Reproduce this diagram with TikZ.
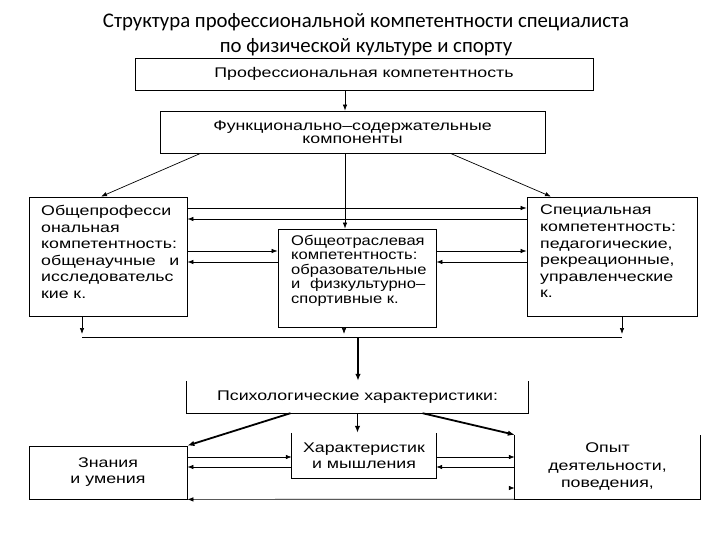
\documentclass[tikz,border=0pt]{standalone}
\usepackage{fontspec}
\setmainfont{Liberation Sans}[FakeStretch=1.27]
\newfontfamily\narrowfont{Liberation Sans}[FakeStretch=1.18]
\newfontfamily\titlefont{Carlito}
\usetikzlibrary{arrows.meta}

\begin{document}
\begin{tikzpicture}[
    x=1pt, y=-1pt,
    every node/.style={inner sep=0pt, font=\fontsize{14}{16}\selectfont},
    box/.style={draw, line width=0.8pt},
    link/.style={draw, line width=0.7pt, -{Latex[length=6pt,width=4.5pt]}},
    heavy/.style={draw, line width=1.8pt, -{Latex[length=7pt,width=5.5pt]}}
]
\useasboundingbox (0,0) rectangle (720,540);
\node[font=\titlefont\fontsize{20.8}{25}\selectfont, align=center] (title) at (366,35)
    {Структура профессиональной компетентности специалиста\\по физической культуре и спорту};

\node[box, minimum width=458, minimum height=32] (prof) at (364,74) {Профессиональная компетентность};
\node[box, minimum width=385, minimum height=42, align=center, font=\fontsize{14}{13}\selectfont] (func) at (352.5,132)
    {Функционально–содержательные\\компоненты};

% competence boxes
\node[box, minimum width=158, minimum height=119] (gen) at (108,256.5) {};
\node[box, minimum width=158, minimum height=98] (branch) at (357,278) {};
\node[box, minimum width=170, minimum height=119] (spec) at (612,256.5) {};
\node[anchor=north west, text width=138, align=left, font=\fontsize{14}{16.6}\selectfont] (gentxt) at (41,205)
    {Общепрофесси\\ональная\\компетентность:\\общенаучные\hfill и\\исследовательс\\кие к.};
\node[anchor=north west, text width=134, align=left, font=\narrowfont\fontsize{14}{14.5}\selectfont] (branchtxt) at (291,235)
    {Общеотраслевая\\компетентность:\\образовательные\\и\hfill физкультурно–\\спортивные к.};
\node[anchor=north west, text width=140, align=left, font=\fontsize{14}{16.6}\selectfont] (spectxt) at (540,205)
    {Специальная\\компетентность:\\педагогические,\\рекреационные,\\управленческие\\к.};

\node[minimum width=341, minimum height=32] (psych) at (357.5,397) {Психологические характеристики:};
\draw[line width=0.8pt] (psych.north west) -- (psych.south west) -- (psych.south east) -- (psych.north east);

\node[box, minimum width=158, minimum height=53, align=center] (know) at (108,472.5) {Знания\\и умения};
\node[minimum width=144, minimum height=45, align=center, font=\fontsize{14}{16.5}\selectfont] (think) at (364,455.5) {Характеристик\\и мышления};
\draw[line width=0.8pt] (think.north west) -- (think.south west) -- (think.south east) -- (think.north east);
\node[minimum width=185, minimum height=64, align=center, font=\fontsize{14}{17.5}\selectfont] (exper) at (607.5,467) {Опыт\\деятельности,\\поведения,};
\draw[line width=0.8pt] (exper.north west) -- (exper.south west) -- (exper.south east) -- (exper.north east);

% rows of the cross links
\coordinate (spine) at (345,0);
\coordinate (r1) at (0,208);
\coordinate (r2) at (0,219);
\coordinate (r3) at (0,251);
\coordinate (r4) at (0,262);
\coordinate (q1) at (0,457);
\coordinate (q2) at (0,467);
\coordinate (stub) at (509,488);
\coordinate (dl) at (82,337);
\coordinate (dm) at (344,337);
\coordinate (dr) at (622,337);
\coordinate (join) at (358,337);

\draw[link] (prof.south -| spine) -- (func.north -| spine);
\draw[link] ([xshift=-152pt]func.south) -- ([xshift=-7pt]gen.north);
\draw[link] ([xshift=98pt]func.south) -- ([xshift=-61pt]spec.north);
\draw[link] (func.south -| spine) -- (branch.north -| spine);

\draw[link] (gen.east |- r1) -- (spec.west |- r1);
\draw[link] (spec.west |- r2) -- (gen.east |- r2);
\draw[link] (gen.east |- r3) -- (branch.west |- r3);
\draw[link] (branch.west |- r4) -- (gen.east |- r4);
\draw[link] (branch.east |- r3) -- (spec.west |- r3);
\draw[link] (spec.west |- r4) -- (branch.east |- r4);

\draw[link] (dl |- gen.south) -- ([yshift=3pt]dl);
\draw[link] (dm |- branch.south) -- ([yshift=3pt]dm);
\draw[link] (dr |- spec.south) -- ([yshift=3pt]dr);
\draw[line width=0.7pt] (dl) -- (dr);
\draw[heavy] (join) -- (psych.north -| join);

\draw[heavy] ([xshift=-67pt]psych.south) -- (know.north east);
\draw[heavy] (psych.south) -- (psych.south |- think.north);
\draw[heavy] ([xshift=65pt]psych.south) -- (exper.north west);

\draw[link] (know.east |- q1) -- (think.west |- q1);
\draw[link] (think.west |- q2) -- (know.east |- q2);
\draw[link] (think.east |- q1) -- (exper.west |- q1);
\draw[link] (exper.west |- q2) -- (think.east |- q2);
\draw[link] (stub) -- (stub -| exper.west);
\draw[link] (exper.south west) -- (know.south east);
\end{tikzpicture}
\end{document}
